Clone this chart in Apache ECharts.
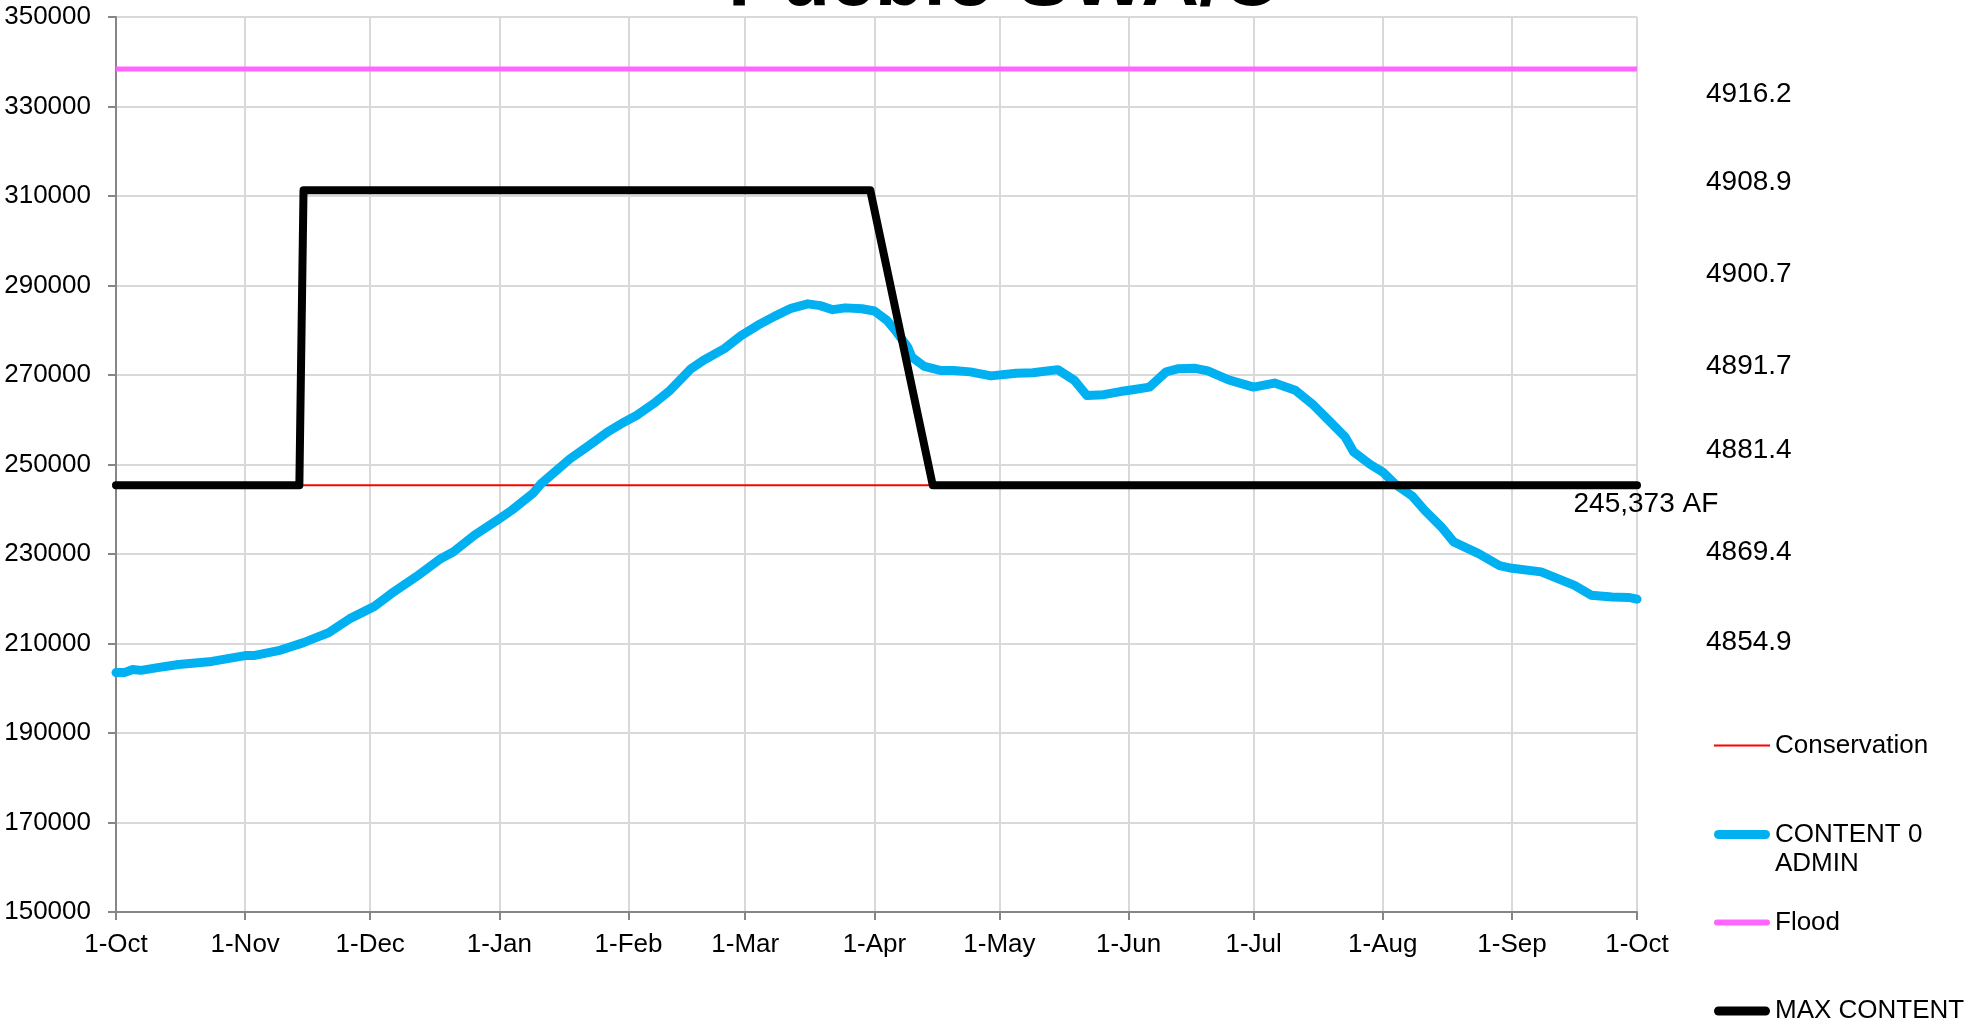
<!DOCTYPE html>
<html><head><meta charset="utf-8">
<script src="https://cdn.jsdelivr.net/npm/echarts@6/dist/echarts.min.js"></script>
<style>html,body{margin:0;padding:0;background:#fff}#c{width:1981px;height:1024px}</style>
</head><body><div id="c"></div>
<script>
// ---------- DATA ----------
const TITLE = 'Pueblo SWA/C';
const MONTHS = ['Jan','Feb','Mar','Apr','May','Jun','Jul','Aug','Sep','Oct','Nov','Dec'];
// one category per day, 1-Oct to the next 1-Oct
const categories = [];
for (let d = 0; d <= 365; d++) {
  const t = new Date(Date.UTC(2022, 9, 1) + d * 86400000);
  categories.push(t.toISOString().slice(0, 10));
}
const yMin = 150000, yMax = 350000, yStep = 20000;

const conservationDays = [0, 365];
const conservationAF   = [245373, 245373];

const floodDays = [0, 365];
const floodAF   = [338400, 338400];

const maxDays = [0, 44, 45, 181, 196, 365];
const maxAF   = [245373, 245373, 311300, 311300, 245373, 245373];

const contentDays = [0,2,4,6,10,15,23,31,33,39,45,48,51,56,62,66,72,78,81,86,92,95,100,102,109,113,118,122,125,129,133,138,141,146,150,154,158,162,166,169,172,175,179,182,185,187,190,191,194,198,201,205,210,216,220,226,230,233,237,241,244,248,252,255,259,262,267,273,278,283,287,291,295,297,301,304,307,311,314,318,321,327,332,335,342,346,350,354,359,363,365];
const contentAF = [203500,203500,204200,204000,204600,205300,206000,207300,207300,208400,210200,211300,212400,215500,218300,221100,224900,229000,230500,234200,237900,239800,243500,245700,251300,253900,257300,259500,261000,263600,266600,271400,273300,275900,278800,281100,283100,284900,285900,285500,284600,285000,284800,284300,282200,280000,276200,274000,271900,271000,271000,270700,269800,270400,270500,271200,268800,265400,265600,266300,266700,267300,270700,271400,271500,270900,268900,267300,268200,266600,263600,259900,256100,252800,250000,248300,245600,243000,239800,236100,232700,230100,227400,226800,226000,224500,223000,220800,220400,220300,219900];

// elevation labels (ft) and the storage (AF) they sit at on the right
const elevLabels = ['4916.2','4908.9','4900.7','4891.7','4881.4','4869.4','4854.9'];
const elevAtAF   = [332700, 312970, 292500, 272000, 253240, 230450, 210330];

// ---------- CHART ----------
const FONT = '"Liberation Sans", Arial, sans-serif';
const pairs = (days, vals) => days.map((d, i) => [d, vals[i]]);
const isMonthStart = (idx, val) => val.slice(8, 10) === '01';
const fmtCat = v => parseInt(v.slice(8, 10), 10) + '-' + MONTHS[parseInt(v.slice(5, 7), 10) - 1];
const lastMax = maxAF[maxAF.length - 1];

const legendBase = {
  orient: 'vertical', left: 1714, padding: 0, itemGap: 0, itemWidth: 56,
  selectedMode: false,
  textStyle: { fontSize: 26, lineHeight: 29, color: '#000', fontFamily: FONT }
};

const option = {
  animation: false,
  backgroundColor: '#fff',
  title: {
    text: TITLE, left: 728, top: -57, padding: 0,
    textStyle: { fontSize: 80, fontWeight: 'bold', color: '#000', fontFamily: FONT }
  },
  grid: { left: 116, right: 344, top: 17, bottom: 112, outerBoundsMode: 'none' },
  legend: [
    Object.assign({}, legendBase, { data: ['Conservation'], top: 731, itemHeight: 2, icon: 'rect' }),
    Object.assign({}, legendBase, {
      data: ['CONTENT 0 ADMIN'], top: 791, itemHeight: 9,
      icon: 'path://M4.5,0H51.5A4.5,4.5,0,0,1,51.5,9H4.5A4.5,4.5,0,0,1,4.5,0Z',
      formatter: ' \nCONTENT 0\nADMIN'
    }),
    Object.assign({}, legendBase, { data: ['Flood'], top: 908, itemHeight: 6,
      icon: 'path://M3,0H53A3,3,0,0,1,53,6H3A3,3,0,0,1,3,0Z' }),
    Object.assign({}, legendBase, { data: ['MAX CONTENT'], top: 996.5, itemHeight: 9,
      icon: 'path://M4.5,0H51.5A4.5,4.5,0,0,1,51.5,9H4.5A4.5,4.5,0,0,1,4.5,0Z' })
  ],
  xAxis: {
    type: 'category', data: categories, boundaryGap: false,
    axisLine: { lineStyle: { color: '#868686', width: 2 } },
    axisTick: { interval: isMonthStart, length: 8, lineStyle: { color: '#868686', width: 2 } },
    axisLabel: { interval: isMonthStart, formatter: fmtCat, fontSize: 26, color: '#000', margin: 20, fontFamily: FONT },
    splitLine: { show: true, interval: isMonthStart, lineStyle: { color: '#d9d9d9', width: 2 } }
  },
  yAxis: [{
    type: 'value', min: yMin, max: yMax, interval: yStep,
    axisLine: { show: true, lineStyle: { color: '#868686', width: 2 } },
    axisTick: { show: true, length: 8, lineStyle: { color: '#868686', width: 2 } },
    axisLabel: { fontSize: 26, color: '#000', margin: 25, fontFamily: FONT, formatter: v => String(v) },
    splitLine: { show: true, lineStyle: { color: '#d9d9d9', width: 2 } }
  }, {
    type: 'value', min: yMin, max: yMax, interval: yStep, position: 'right',
    axisLine: { show: false }, axisTick: { show: false }, splitLine: { show: false },
    axisLabel: {
      customValues: elevAtAF,
      formatter: v => { const i = elevAtAF.indexOf(v); return i >= 0 ? elevLabels[i] : ''; },
      fontSize: 28, color: '#000', margin: 69, fontFamily: FONT, align: 'left'
    }
  }],
  series: [
    { name: 'Conservation', type: 'line', data: pairs(conservationDays, conservationAF),
      symbol: 'none', color: '#ff0000', lineStyle: { color: '#ff0000', width: 2 } },
    { name: 'CONTENT 0 ADMIN', type: 'line', data: pairs(contentDays, contentAF),
      symbol: 'none', color: '#00b0f0',
      lineStyle: { color: '#00b0f0', width: 9, cap: 'round', join: 'round' } },
    { name: 'Flood', type: 'line', data: pairs(floodDays, floodAF),
      symbol: 'none', color: '#ff66ff', lineStyle: { color: '#ff66ff', width: 5 } },
    { name: 'MAX CONTENT', type: 'line', data: pairs(maxDays, maxAF),
      symbol: 'none', color: '#000000',
      lineStyle: { color: '#000000', width: 8, cap: 'round', join: 'round' },
      markPoint: {
        symbol: 'circle', symbolSize: 1, itemStyle: { color: 'rgba(0,0,0,0)' },
        data: [{ coord: [categories[maxDays[maxDays.length - 1]], lastMax], value: lastMax }],
        label: { show: true, position: [-63, 6], align: 'left', verticalAlign: 'top',
          formatter: p => p.value.toLocaleString('en-US') + ' AF',
          fontSize: 28, color: '#000', fontFamily: FONT }
      }
    }
  ]
};
const chart = echarts.init(document.getElementById('c'), null, { renderer: 'canvas' });
chart.setOption(option);
</script>
</body></html>
